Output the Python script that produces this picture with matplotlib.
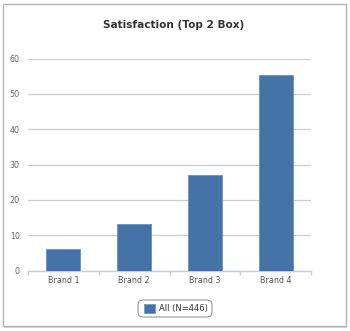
import matplotlib.pyplot as plt
from matplotlib.patches import FancyBboxPatch, Rectangle

brands = ["Brand 1", "Brand 2", "Brand 3", "Brand 4"]
values = [6.2, 13.3, 26.9, 55.3]
series_name = "All (N=446)"
yticks = [0, 10, 20, 30, 40, 50, 60]

W, H = 350, 331
fig = plt.figure(figsize=(W / 100, H / 100), dpi=100)
fig.patch.set_facecolor("white")

# outer frame with a slight shadow
fig.add_artist(Rectangle((4 / W, 3 / H), 343 / W, 324 / H, transform=fig.transFigure,
                         facecolor="#d8d8d8", edgecolor="none", zorder=0))
fig.add_artist(Rectangle((3 / W, 5 / H), 343 / W, 322 / H, transform=fig.transFigure,
                         facecolor="white", edgecolor="#b4b4b4", lw=1, zorder=0))

ax = fig.add_axes([28 / W, 1 - 270.5 / H, 283 / W, 212 / H])
ax.set_facecolor("none")
x = range(len(brands))
ax.bar(x, values, width=0.48, color="#4572A7", edgecolor="#6b8fbf", linewidth=0.6, zorder=3)
ax.set_xlim(-0.5, 3.5)
ax.set_ylim(0, 60)
ax.set_yticks(yticks)
ax.set_yticklabels([str(t) for t in yticks])
ax.yaxis.grid(True, color="#cccccc", lw=0.9, zorder=0)
ax.set_axisbelow(True)
for s in ["top", "right", "left"]:
    ax.spines[s].set_visible(False)
ax.spines["bottom"].set_color("#c0d0e0")
ax.spines["bottom"].set_linewidth(1)
ax.set_xticks(list(x))
ax.set_xticklabels(brands)
ax.tick_params(axis="x", length=0, pad=4, labelsize=5.8, labelcolor="#555555")
ax.tick_params(axis="y", length=0, pad=6, labelsize=5.8, labelcolor="#666666")
ax.set_xticks([-0.5, 0.5, 1.5, 2.5, 3.5], minor=True)
ax.tick_params(axis="x", which="minor", length=3, color="#c0d0e0", width=1)

fig.text(174 / W, 1 - 25 / H, "Satisfaction (Top 2 Box)", ha="center", va="center",
         fontsize=7.6, fontweight="bold", color="#333333")

# legend box
fig.add_artist(FancyBboxPatch((138 / W, 1 - 317 / H), 74 / W, 17 / H,
                              boxstyle="round,pad=0,rounding_size=0.015",
                              transform=fig.transFigure, facecolor="white",
                              edgecolor="#999999", lw=0.8))
fig.add_artist(Rectangle((144 / W, 1 - 313 / H), 11 / W, 9 / H, transform=fig.transFigure,
                         facecolor="#4572A7", edgecolor="#6b8fbf", lw=0.5))
fig.text(159 / W, 1 - 308.5 / H, series_name, ha="left", va="center",
         fontsize=6, color="#333333")

fig.savefig("out.png", dpi=100)
